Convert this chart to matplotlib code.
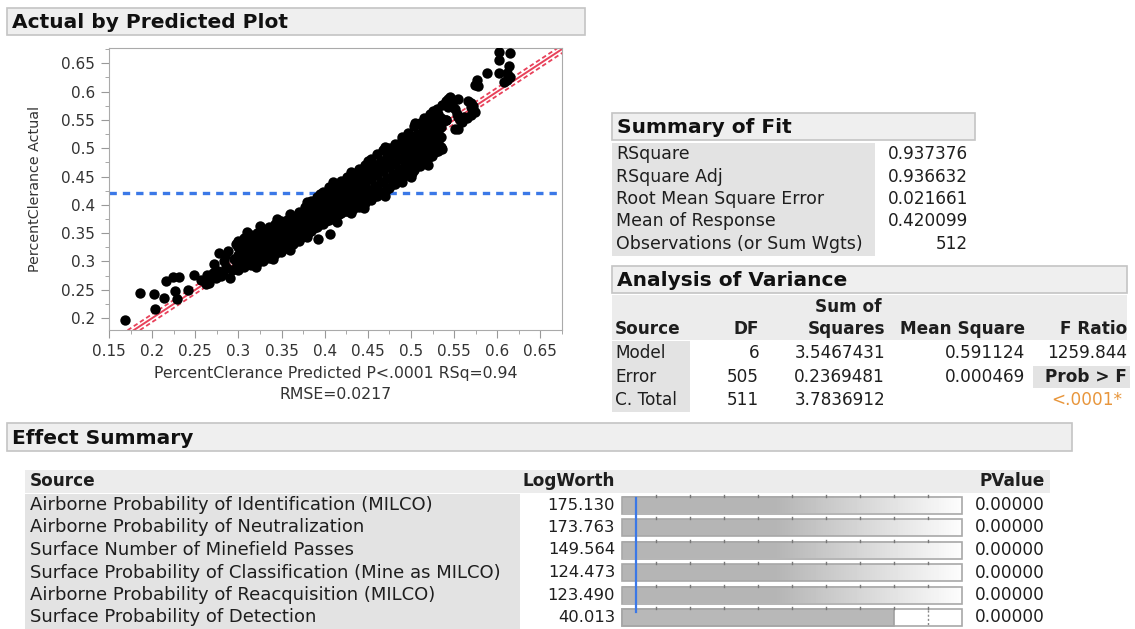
import numpy as np
import matplotlib.pyplot as plt
from matplotlib.patches import Rectangle
from matplotlib.ticker import MultipleLocator, FuncFormatter

plt.rcParams['font.family'] = ['DejaVu Sans']

# ---- scatter data (PercentClerance predicted, actual) ----
low_pts = [(0.168, 0.197), (0.186, 0.245), (0.202, 0.243), (0.203, 0.216), (0.214, 0.236),
           (0.216, 0.266), (0.224, 0.272), (0.231, 0.272), (0.226, 0.248), (0.229, 0.234),
           (0.241, 0.250), (0.249, 0.276), (0.257, 0.267), (0.262, 0.260), (0.264, 0.270),
           (0.266, 0.262), (0.272, 0.295), (0.278, 0.315), (0.280, 0.274), (0.290, 0.271),
           (0.283, 0.300), (0.286, 0.290), (0.276, 0.283), (0.292, 0.285), (0.297, 0.330),
           (0.295, 0.305), (0.298, 0.295), (0.288, 0.318), (0.270, 0.280), (0.274, 0.270),
           (0.282, 0.282), (0.285, 0.310), (0.263, 0.277), (0.303, 0.306)]

band_x = [0.300, 0.307, 0.314, 0.321, 0.328, 0.335, 0.342, 0.349, 0.356, 0.363, 0.370, 0.377,
          0.384, 0.391, 0.398, 0.405, 0.412, 0.419, 0.426, 0.433, 0.440, 0.447, 0.454, 0.461,
          0.468, 0.475, 0.482, 0.489, 0.496, 0.503, 0.510, 0.517, 0.524, 0.531]
band_y = [[0.285, 0.298, 0.312, 0.325, 0.337], [0.290, 0.304, 0.318, 0.332, 0.341],
          [0.293, 0.307, 0.321, 0.334, 0.347], [0.298, 0.311, 0.326, 0.339, 0.351],
          [0.301, 0.315, 0.330, 0.343, 0.356], [0.307, 0.320, 0.334, 0.348, 0.361],
          [0.313, 0.326, 0.340, 0.354, 0.367], [0.317, 0.331, 0.345, 0.358, 0.371],
          [0.323, 0.337, 0.350, 0.363, 0.374], [0.331, 0.344, 0.357, 0.369, 0.379],
          [0.337, 0.350, 0.363, 0.376, 0.387], [0.345, 0.358, 0.371, 0.384, 0.397],
          [0.353, 0.366, 0.379, 0.393, 0.407], [0.361, 0.374, 0.387, 0.400, 0.413],
          [0.366, 0.380, 0.394, 0.408, 0.423], [0.373, 0.387, 0.401, 0.416, 0.431],
          [0.379, 0.393, 0.408, 0.423, 0.437], [0.385, 0.399, 0.414, 0.429, 0.443],
          [0.389, 0.404, 0.419, 0.435, 0.449], [0.393, 0.409, 0.425, 0.441, 0.455],
          [0.397, 0.414, 0.430, 0.447, 0.463], [0.403, 0.420, 0.437, 0.455, 0.471],
          [0.409, 0.427, 0.445, 0.463, 0.481], [0.415, 0.433, 0.452, 0.471, 0.489],
          [0.421, 0.440, 0.459, 0.478, 0.496], [0.429, 0.447, 0.466, 0.485, 0.501],
          [0.437, 0.455, 0.473, 0.491, 0.507], [0.447, 0.464, 0.481, 0.498, 0.514],
          [0.453, 0.472, 0.490, 0.509, 0.527], [0.461, 0.480, 0.500, 0.520, 0.539],
          [0.469, 0.488, 0.507, 0.526, 0.544], [0.477, 0.496, 0.514, 0.532, 0.549],
          [0.487, 0.505, 0.522, 0.540, 0.555], [0.495, 0.512, 0.530, 0.546, 0.561]]

band2_x = [0.304, 0.311, 0.318, 0.325, 0.332, 0.339, 0.346, 0.353, 0.360, 0.367, 0.374, 0.381,
           0.388, 0.395, 0.402, 0.409, 0.416, 0.423, 0.430, 0.437, 0.444, 0.451, 0.458, 0.465,
           0.472, 0.479, 0.486, 0.493, 0.500, 0.507, 0.514, 0.521, 0.528, 0.535]
band2_y = [[0.292, 0.305, 0.319, 0.331], [0.296, 0.311, 0.325, 0.338],
           [0.300, 0.314, 0.328, 0.343], [0.303, 0.318, 0.333, 0.347],
           [0.309, 0.322, 0.337, 0.352], [0.313, 0.327, 0.341, 0.356],
           [0.318, 0.333, 0.347, 0.362], [0.324, 0.338, 0.352, 0.366],
           [0.329, 0.343, 0.357, 0.370], [0.337, 0.349, 0.362, 0.375],
           [0.343, 0.356, 0.369, 0.382], [0.351, 0.364, 0.377, 0.391],
           [0.359, 0.372, 0.386, 0.400], [0.366, 0.379, 0.392, 0.407],
           [0.372, 0.386, 0.400, 0.415], [0.378, 0.392, 0.407, 0.422],
           [0.384, 0.398, 0.413, 0.428], [0.389, 0.404, 0.419, 0.434],
           [0.394, 0.409, 0.425, 0.440], [0.399, 0.415, 0.431, 0.447],
           [0.404, 0.421, 0.437, 0.454], [0.410, 0.427, 0.445, 0.462],
           [0.416, 0.434, 0.452, 0.470], [0.422, 0.441, 0.459, 0.478],
           [0.428, 0.447, 0.466, 0.485], [0.436, 0.455, 0.474, 0.492],
           [0.444, 0.462, 0.481, 0.498], [0.453, 0.471, 0.489, 0.506],
           [0.460, 0.479, 0.497, 0.516], [0.468, 0.487, 0.506, 0.526],
           [0.476, 0.495, 0.514, 0.533], [0.485, 0.504, 0.521, 0.540],
           [0.494, 0.512, 0.529, 0.547], [0.503, 0.520, 0.537, 0.553]]

edge_pts = [(0.310, 0.352), (0.325, 0.362), (0.345, 0.375), (0.360, 0.383), (0.380, 0.405),
            (0.395, 0.420), (0.410, 0.440), (0.430, 0.458), (0.450, 0.478), (0.470, 0.503),
            (0.490, 0.520), (0.505, 0.545), (0.515, 0.553), (0.320, 0.290), (0.340, 0.305),
            (0.360, 0.320), (0.380, 0.343), (0.430, 0.385), (0.445, 0.395), (0.470, 0.415),
            (0.490, 0.440), (0.520, 0.470)]

high_pts = [(0.536, 0.499), (0.530, 0.570), (0.536, 0.576), (0.522, 0.561), (0.524, 0.549),
            (0.540, 0.549), (0.543, 0.587), (0.547, 0.581), (0.545, 0.590), (0.549, 0.572),
            (0.543, 0.572), (0.551, 0.570), (0.553, 0.561), (0.561, 0.555), (0.557, 0.549),
            (0.559, 0.546), (0.551, 0.534), (0.555, 0.534), (0.541, 0.549), (0.555, 0.555),
            (0.566, 0.584), (0.570, 0.579), (0.569, 0.573), (0.572, 0.567), (0.570, 0.558),
            (0.572, 0.575), (0.574, 0.564), (0.576, 0.620), (0.574, 0.611), (0.578, 0.610),
            (0.588, 0.632), (0.602, 0.633), (0.611, 0.632), (0.611, 0.620), (0.608, 0.617),
            (0.613, 0.646), (0.615, 0.668), (0.602, 0.670), (0.615, 0.625), (0.602, 0.656),
            (0.541, 0.584), (0.554, 0.587), (0.526, 0.566), (0.565, 0.554)]

outlier_pts = [(0.392, 0.340), (0.406, 0.349), (0.414, 0.369), (0.415, 0.386),
               (0.500, 0.449), (0.501, 0.457)]

mean_response = 0.420099

# ---- tables ----
fit_labels = ['RSquare', 'RSquare Adj', 'Root Mean Square Error', 'Mean of Response',
              'Observations (or Sum Wgts)']
fit_values = ['0.937376', '0.936632', '0.021661', '0.420099', '512']

anova_source = ['Model', 'Error', 'C. Total']
anova_df = ['6', '505', '511']
anova_ss = ['3.5467431', '0.2369481', '3.7836912']
anova_ms = ['0.591124', '0.000469', '']

effects = ['Airborne Probability of Identification (MILCO)',
           'Airborne Probability of Neutralization',
           'Surface Number of Minefield Passes',
           'Surface Probability of Classification (Mine as MILCO)',
           'Airborne Probability of Reacquisition (MILCO)',
           'Surface Probability of Detection']
logworth = [175.130, 173.763, 149.564, 124.473, 123.490, 40.013]
pvalues = ['0.00000'] * 6

W, H = 1135, 629
fig = plt.figure(figsize=(W / 100, H / 100), dpi=100)
bg = fig.add_axes([0, 0, 1, 1])
bg.set_xlim(0, W)
bg.set_ylim(H, 0)
bg.axis('off')

TXT = '#1e1e1e'
CELL = '#e3e3e3'


def header(x0, y0, x1, y1, text):
    bg.add_patch(Rectangle((x0, y0), x1 - x0, y1 - y0, fc='#efefef', ec='#c4c4c4', lw=1.2))
    bg.text(x0 + 5, (y0 + y1) / 2 + 1, text, fontsize=14.5, fontweight='bold',
            va='center', ha='left', color='#111111')


def txt(x, y, s, ha='left', bold=False, color=TXT, size=12.2):
    bg.text(x, y, s, ha=ha, va='center', fontsize=size, color=color,
            fontweight='bold' if bold else 'normal')


# ---- Actual by Predicted Plot ----
header(7, 8, 585, 35, 'Actual by Predicted Plot')

ax = fig.add_axes([109 / W, 1 - 330 / H, 453 / W, 282 / H])
ax.set_xlim(0.15, 0.675)
ax.set_ylim(0.179, 0.677)

pts = (low_pts
       + [(x, y) for x, ys in zip(band_x, band_y) for y in ys]
       + [(x, y) for x, ys in zip(band2_x, band2_y) for y in ys]
       + edge_pts + high_pts + outlier_pts)
px = np.array([p[0] for p in pts])
py = np.array([p[1] for p in pts])

ax.axhline(mean_response, color='#3b78e7', lw=2.4, ls=(0, (2.2, 1.8)), zorder=1)
xx = np.array([0.15, 0.68])
ax.plot(xx, xx, color='#e8415a', lw=1.4, zorder=2)
ax.plot(xx, xx + 0.007, color='#e8415a', lw=1.3, ls=(0, (2.5, 1.6)), zorder=2)
ax.plot(xx, xx - 0.007, color='#e8415a', lw=1.3, ls=(0, (2.5, 1.6)), zorder=2)
ax.scatter(px, py, s=56, color='black', linewidths=0, zorder=3)

ax.xaxis.set_major_locator(MultipleLocator(0.05))
ax.yaxis.set_major_locator(MultipleLocator(0.05))
ax.xaxis.set_minor_locator(MultipleLocator(0.025))
ax.yaxis.set_minor_locator(MultipleLocator(0.025))
fmt = FuncFormatter(lambda v, p: ('%.2f' % v).rstrip('0'))
ax.xaxis.set_major_formatter(fmt)
ax.yaxis.set_major_formatter(fmt)
ax.tick_params(which='major', direction='out', length=6, color='#999999',
               labelsize=11, labelcolor='#333333', pad=4)
ax.tick_params(which='minor', direction='out', length=3, color='#999999')
for s in ax.spines.values():
    s.set_color('#aaaaaa')
ax.set_ylabel('PercentClerance Actual', fontsize=10.3, color='#333333', labelpad=14)
ax.set_xlabel('PercentClerance Predicted P<.0001 RSq=0.94\nRMSE=0.0217', fontsize=11.3,
              color='#333333', labelpad=5, linespacing=1.55)

# ---- Summary of Fit ----
header(612, 113, 975, 140, 'Summary of Fit')
bg.add_patch(Rectangle((612, 143), 263, 113, fc=CELL, ec='none'))
for i, (lab, val) in enumerate(zip(fit_labels, fit_values)):
    y = 154 + i * 22.5
    txt(616, y, lab, size=12.5)
    txt(968, y, val, ha='right')

# ---- Analysis of Variance ----
header(612, 266, 1127, 293, 'Analysis of Variance')
bg.add_patch(Rectangle((612, 295), 515, 45, fc='#ececec', ec='none'))
bg.add_patch(Rectangle((612, 341), 78, 71, fc=CELL, ec='none'))
txt(848, 307, 'Sum of', ha='center', bold=True)
col_r = [759, 885, 1025, 1127]
txt(615, 329, 'Source', bold=True)
for x, h in zip(col_r, ['DF', 'Squares', 'Mean Square', 'F Ratio']):
    txt(x, 329, h, ha='right', bold=True)
for i in range(3):
    y = 353 + i * 23.5
    txt(615, y, anova_source[i])
    txt(col_r[0], y, anova_df[i], ha='right')
    txt(col_r[1], y, anova_ss[i], ha='right')
    txt(col_r[2], y, anova_ms[i], ha='right')
txt(col_r[3], 353, '1259.844', ha='right')
bg.add_patch(Rectangle((1033, 366), 97, 22, fc=CELL, ec='none'))
txt(col_r[3], 377, 'Prob > F', ha='right', bold=True)
txt(col_r[3] - 5, 400, '<.0001*', ha='right', color='#e8963c')

# ---- Effect Summary ----
header(7, 423, 1072, 451, 'Effect Summary')
bg.add_patch(Rectangle((25, 470), 1025, 23, fc='#ececec', ec='none'))
bg.add_patch(Rectangle((25, 494), 495, 135, fc=CELL, ec='none'))
txt(30, 481, 'Source', bold=True)
txt(615, 481, 'LogWorth', ha='right', bold=True)
txt(1045, 481, 'PValue', ha='right', bold=True)

bx0, bx1, scale_max = 622, 962, 50.0
grad = np.concatenate([np.full(45, 0.71), np.linspace(0.71, 0.99, 55)])
for i, (name, lw_, pv) in enumerate(zip(effects, logworth, pvalues)):
    yc = 505 + i * 22.5
    txt(30, yc, name, size=13)
    txt(615, yc, '%.3f' % lw_, ha='right', size=11.8)
    txt(1045, yc, pv, ha='right')
    bg.add_patch(Rectangle((bx0, yc - 8.5), bx1 - bx0, 17, fc='white', ec='none', zorder=1))
    if lw_ >= scale_max:
        bg.imshow(np.tile(grad, (2, 1)), cmap='gray', vmin=0, vmax=1, aspect='auto',
                  extent=(bx0, bx1, yc + 8.5, yc - 8.5), zorder=2, interpolation='bilinear')
    else:
        xe = bx0 + (bx1 - bx0) * lw_ / scale_max
        bg.add_patch(Rectangle((bx0, yc - 8.5), xe - bx0, 17, fc='#b8b8b8', ec='#a0a0a0', lw=1.2, zorder=3))
        xd = bx0 + (bx1 - bx0) * 45 / scale_max
        bg.plot([xd, xd], [yc - 8, yc + 8], color='#888888', lw=1, ls=(0, (1.5, 1.5)), zorder=4)
    bg.add_patch(Rectangle((bx0, yc - 8.5), bx1 - bx0, 17, fc='none', ec='#a8a8a8', lw=1.2, zorder=4))
    for t in np.arange(5, scale_max, 5):
        xt = bx0 + (bx1 - bx0) * t / scale_max
        bg.plot([xt, xt], [yc - 10.5, yc - 8.5], color='#777777', lw=1, zorder=5)
xb = bx0 + (bx1 - bx0) * 2 / scale_max
bg.plot([xb, xb], [498, 612], color='#3b78e7', lw=1.6, zorder=6)
bg.set_xlim(0, W)
bg.set_ylim(H, 0)

fig.savefig('out.png', dpi=100)
